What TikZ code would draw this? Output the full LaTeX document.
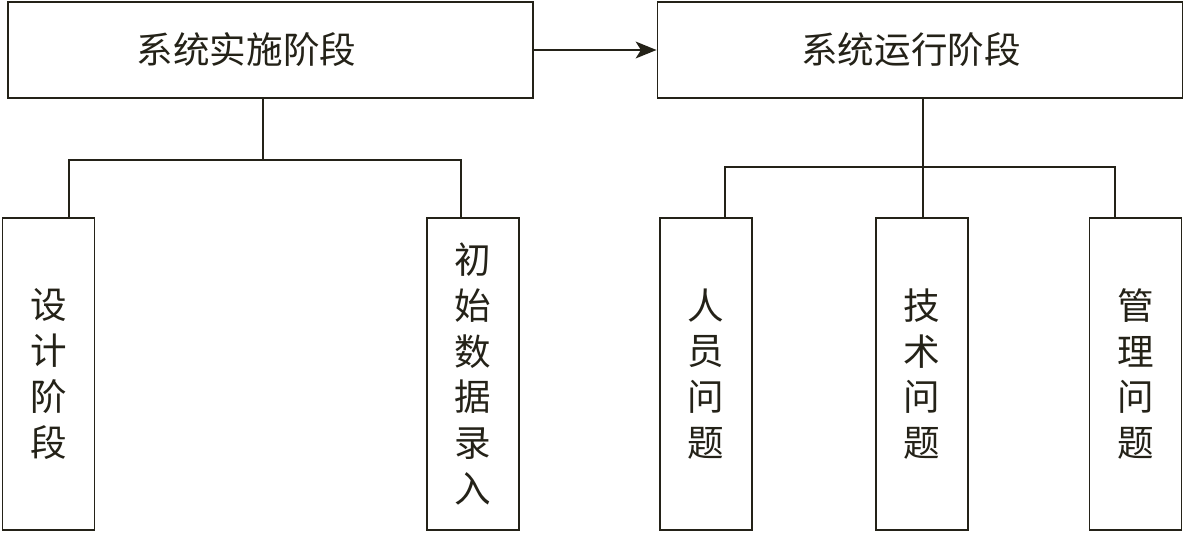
\documentclass[tikz,border=0pt]{standalone}
\usepackage{fontspec}
\newfontfamily\cjk{Noto Sans CJK SC}
\usetikzlibrary{arrows.meta,positioning}
\definecolor{inkdark}{RGB}{36,34,24}

\begin{document}
\begin{tikzpicture}[x=0.025cm, y=-0.025cm,
    line width=1.3pt, draw=inkdark,
    stage/.style={rectangle, draw=inkdark, minimum width=13.125cm, minimum height=2.4cm, font=\cjk\fontsize{26}{30}\selectfont, text=inkdark},
    part/.style={rectangle, draw=inkdark, minimum width=2.3cm, minimum height=7.8cm, align=center, font=\cjk\fontsize{26}{32.6}\selectfont, text=inkdark},
    link/.style={inkdark},
    arr/.style={-{Stealth[length=0.52cm, width=0.42cm, inset=0.13cm]}, inkdark}
]
    \useasboundingbox (0,0) rectangle (1186,533);
    % top row
    \node[stage] (impl) at (270.5, 50) {系统实施阶段\hspace*{1.2cm}};
    \node[stage] (run) at (920, 50) {系统运行阶段\hspace*{0.45cm}};
    \draw[arr] (impl.east) -- (run.west);
    % implementation parts
    \node[part] (design) at (48.5, 374) {设\\计\\阶\\段};
    \node[part] (entry) at (473, 374) {初\\始\\数\\据\\录\\入};
    % operation parts
    \node[part] (people) at (706, 374) {人\\员\\问\\题};
    \node[part] (tech) at (922, 374) {技\\术\\问\\题};
    \node[part] (mgmt) at (1135.5, 374) {管\\理\\问\\题};
    % tree under implementation
    \coordinate (jL) at (263, 160);
    \coordinate (bA) at (69, 160);
    \coordinate (bB) at (461, 160);
    \draw[link] (impl.south -| jL) -- (jL);
    \draw[link] (design.north -| bA) -- (bA) -- (bB) -- (entry.north -| bB);
    % tree under operation
    \coordinate (jR) at (923, 167);
    \coordinate (bC) at (725, 167);
    \coordinate (bD) at (1115, 167);
    \draw[link] (run.south -| jR) -- (tech.north -| jR);
    \draw[link] (people.north -| bC) -- (bC) -- (bD) -- (mgmt.north -| bD);
\end{tikzpicture}
\end{document}
